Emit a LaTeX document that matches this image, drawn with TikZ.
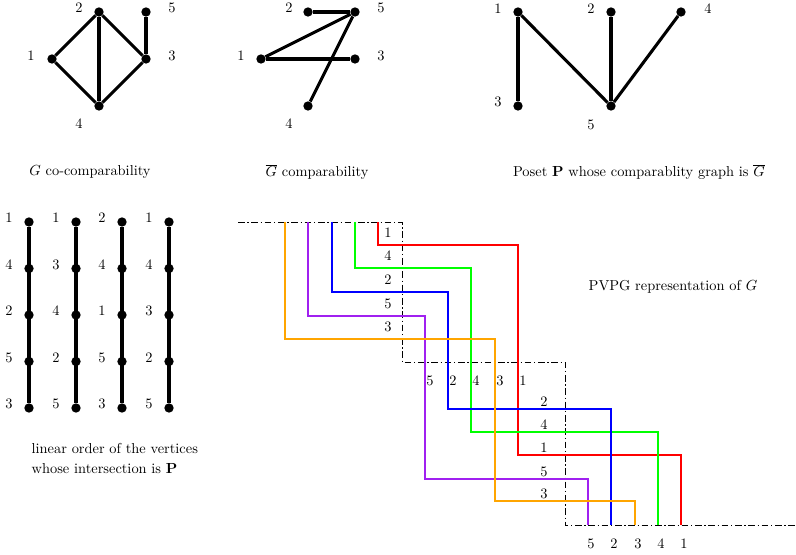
\documentclass[tikz,border=0pt]{standalone}
\usepackage{amsmath,amssymb}
\usepackage{tikz}
\usetikzlibrary{positioning}
\usepackage{xcolor}
\definecolor{pvred}{RGB}{255,0,0}
\definecolor{pvgreen}{RGB}{0,255,0}
\definecolor{pvblue}{RGB}{0,0,255}
\definecolor{pvpurple}{RGB}{160,32,240}
\definecolor{pvorange}{RGB}{255,165,0}

\tikzset{
  every node/.style={font=\fontsize{10.8}{13}\selectfont},
  vtx/.style={circle, fill=black, inner sep=0pt, minimum size=7pt},
  edge/.style={line width=2.3pt},
  lbl/.style={inner sep=1pt},
  rep/.style={line width=2.2pt},
  stair/.style={line width=0.6pt, dash pattern=on 5pt off 2pt on 1pt off 2pt},
}

\begin{document}
\begin{tikzpicture}[x=0.75pt, y=-0.75pt]
    \useasboundingbox (0,0) rectangle (796,555);

    % G co-comparability
    \foreach \n/\x/\y/\lx/\ly in {1/52/59/31/56, 2/99/12/79/8, 3/146/59/172/56,
                                  4/99/106/79/124, 5/146/12/172/8} {
      \node[vtx] (g\n) at (\x,\y) {};
      \node[lbl] (gl\n) at (\lx,\ly) {\n};
    }
    \foreach \a/\b in {1/2, 2/3, 2/4, 1/4, 3/4, 3/5}
      \draw[edge] (g\a) -- (g\b);
    \node (capG) at (90,172) {$G$ co-comparability};

    % complement of G
    \foreach \n/\x/\y/\lx/\ly in {1/261/59/241/56, 2/308/12/289/8, 3/355/59/381/56,
                                  4/308/106/289/124, 5/355/12/381/8} {
      \node[vtx] (c\n) at (\x,\y) {};
      \node[lbl] (cl\n) at (\lx,\ly) {\n};
    }
    \foreach \a/\b in {2/5, 1/5, 1/3, 4/5}
      \draw[edge] (c\a) -- (c\b);
    \node (capC) at (317,172) {$\overline{G}$ comparability};

    % poset P
    \foreach \n/\x/\y/\lx/\ly in {1/518/12/498/9, 2/611/12/591/9, 4/681/12/708/9,
                                  3/518/106/498/102, 5/611/106/591/125} {
      \node[vtx] (p\n) at (\x,\y) {};
      \node[lbl] (pl\n) at (\lx,\ly) {\n};
    }
    \foreach \a/\b in {1/3, 1/5, 2/5, 4/5}
      \draw[edge] (p\a) -- (p\b);
    \node (capP) at (639,172)
      {Poset $\mathbf{P}$ whose comparablity graph is $\overline{G}$};

    % linear orders
    \foreach \c/\x/\ord in {1/29/{1,4,2,5,3}, 2/76/{1,3,4,2,5},
                            3/122/{2,4,1,5,3}, 4/169/{1,4,3,2,5}} {
      \foreach \v [count=\i] in \ord {
        \node[vtx] (o\c-\i) at (\x,{222+46.5*(\i-1)}) {};
        \node[lbl] (ol\c-\i) at (\x-20,{218+46.5*(\i-1)}) {\v};
      }
      \draw[edge] (o\c-1) -- (o\c-5);
    }
    \node[anchor=west] (capL1) at (27,449) {linear order of the vertices};
    \node[anchor=west] (capL2) at (27,469) {whose intersection is $\mathbf{P}$};

    % PVPG representation
    \draw[stair] (238,222) -- (402,222) -- (402,362) -- (565,362)
      -- (565,525) -- (796,525);
    \foreach \v/\col/\xa/\ya/\xb/\yb/\xc in {
        1/pvred/378/245/518/455/681, 4/pvgreen/355/268/471/432/658,
        2/pvblue/332/292/448/409/611, 5/pvpurple/308/316/425/479/588,
        3/pvorange/285/339/495/501/635} {
      \draw[rep, \col] (\xa,222) |- (\xb,\ya) |- (\xc,\yb) -- (\xc,525);
      \node[lbl] (ra\v) at (388,\ya-12) {\v};
      \node[lbl] (rb\v) at (\xb+5,381) {\v};
      \node[lbl] (rc\v) at (544,\yb-7) {\v};
      \node[lbl] (rd\v) at (\xc+3,544) {\v};
    }
    \node (capR) at (673,287) {PVPG representation of $G$};
  \end{tikzpicture}
\end{document}
